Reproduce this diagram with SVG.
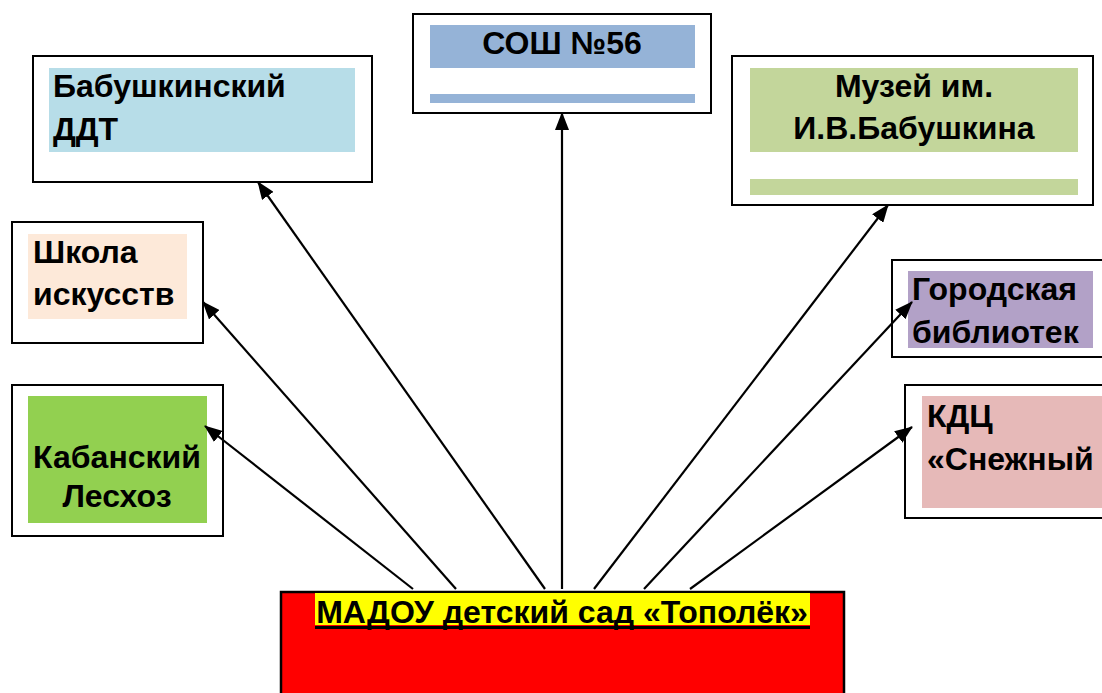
<svg xmlns="http://www.w3.org/2000/svg" width="1102" height="693" viewBox="0 0 1102 693">
<style>
.frame{fill:#fff;stroke:#000;stroke-width:2}
.t{font-family:"Liberation Sans",Arial,sans-serif;font-weight:bold;font-size:32px;fill:#000}
.c{text-anchor:middle}
.ln{stroke:#000;stroke-width:2.2;fill:none;marker-end:url(#ah)}
</style>
<defs>
<marker id="ah" markerUnits="userSpaceOnUse" markerWidth="18" markerHeight="14" viewBox="0 0 18 14" refX="17" refY="7" orient="auto">
<path d="M0,0 L18,7 L0,14 Z" fill="#000"/>
</marker>
</defs>
<rect width="1102" height="693" fill="#fff"/>
<g id="node-babushkinsky">
<rect class="frame" x="33" y="56" width="339" height="126"/>
<rect x="49" y="68" width="306" height="84" fill="#b7dde8"/>
<text class="t" x="53" y="97">Бабушкинский</text>
<text class="t" x="53" y="140">ДДТ</text>
</g>
<g id="node-sosh">
<rect class="frame" x="413" y="14" width="298" height="99"/>
<rect x="430" y="25" width="265" height="43" fill="#95b3d7"/>
<rect x="430" y="94" width="265" height="9" fill="#95b3d7"/>
<text class="t c" x="562" y="54">СОШ №56</text>
</g>
<g id="node-museum">
<rect class="frame" x="732" y="56" width="361" height="149"/>
<rect x="750" y="68" width="328" height="84" fill="#c3d69b"/>
<rect x="750" y="179" width="328" height="16" fill="#c3d69b"/>
<text class="t c" x="914" y="97">Музей им.</text>
<text class="t c" x="914" y="139">И.В.Бабушкина</text>
</g>
<g id="node-school-arts">
<rect class="frame" x="12" y="222" width="191" height="121"/>
<rect x="28" y="234" width="159" height="85" fill="#fde9d9"/>
<text class="t" x="33" y="263">Школа</text>
<text class="t" x="33" y="305">искусств</text>
</g>
<g id="node-leshoz">
<rect class="frame" x="12" y="385" width="211" height="151"/>
<rect x="28" y="396" width="179" height="127" fill="#92d050"/>
<text class="t c" x="117" y="468">Кабанский</text>
<text class="t c" x="117" y="507">Лесхоз</text>
</g>
<g id="node-library">
<rect class="frame" x="892" y="260" width="220" height="97"/>
<rect x="908" y="271" width="185" height="77" fill="#b2a1c7"/>
<text class="t" x="912" y="300">Городская</text>
<text class="t" x="912" y="343">библиотек</text>
</g>
<g id="node-kdc">
<rect class="frame" x="905" y="385" width="210" height="133"/>
<rect x="922" y="396" width="190" height="112" fill="#e6b9b8"/>
<text class="t" x="927" y="427">КДЦ</text>
<text class="t" x="927" y="470">«Снежный</text>
</g>
<g id="node-madou">
<rect x="281" y="592" width="563" height="110" fill="#ff0000" stroke="#000" stroke-width="2.5"/>
<rect x="315" y="593" width="495" height="32" fill="#ffff00"/>
<rect x="315" y="626" width="495" height="3" fill="#000"/>
<text class="t c" x="562" y="623">МАДОУ детский сад «Тополёк»</text>
</g>
<g id="connectors">
<line class="ln" x1="413" y1="589" x2="205" y2="426"/>
<line class="ln" x1="456" y1="589" x2="203" y2="302"/>
<line class="ln" x1="545" y1="589" x2="258" y2="182"/>
<line class="ln" x1="562" y1="589" x2="562" y2="113"/>
<line class="ln" x1="594" y1="589" x2="888" y2="205"/>
<line class="ln" x1="644" y1="589" x2="912" y2="302"/>
<line class="ln" x1="690" y1="589" x2="912" y2="427"/>
</g>
</svg>
